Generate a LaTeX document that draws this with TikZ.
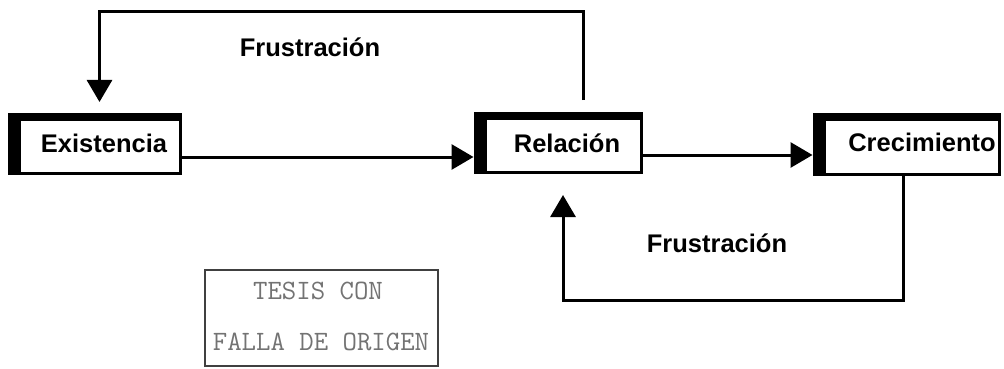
\documentclass[tikz,border=0pt]{standalone}
\usepackage{fontspec}
\setmainfont{Liberation Sans}
\usetikzlibrary{arrows.meta}
\pgfdeclarelayer{background}
\pgfsetlayers{background,main}
\begin{document}
\begin{tikzpicture}[x=1pt,y=-1pt,
  box/.style={draw, line width=3pt, fill=white, inner sep=0pt},
  lbl/.style={font=\fontsize{25.5}{28}\selectfont\bfseries, inner sep=0pt},
  conn/.style={line width=3pt, -{Triangle[length=22pt,width=25pt]}},
  stampline/.style={font=\ttfamily\fontsize{28}{30}\selectfont, text=black!55, inner sep=0pt}
]
\useasboundingbox (0,0) rectangle (1004,369);

% the three need boxes
\node[box, minimum width=161pt, minimum height=54pt] (ex)  at (99.5,146) {};
\node[box, minimum width=156pt, minimum height=54pt] (rel) at (563,145) {};
\node[box, minimum width=175pt, minimum height=55pt] (cr)  at (911.5,146.5) {};

% heavy frame on the upper-left side of each box
\begin{pgfonlayer}{background}
  \foreach \n in {ex,rel,cr}
    \fill[black] ([xshift=-10pt,yshift=5pt]\n.north west) rectangle (\n.south east);
\end{pgfonlayer}

\node[lbl] (exT)  at (104,143) {Existencia};
\node[lbl] (relT) at (567,143) {Relación};
\node[lbl] (crT)  at (922,142) {Crecimiento};

% forward progression
\coordinate (a1) at ([yshift=-11pt]ex.east);
\coordinate (relL) at ([xshift=-10pt]rel.west);
\draw[conn] (a1) -- (relL |- a1);

\coordinate (a2) at ([yshift=-10pt]rel.east);
\coordinate (crL) at ([xshift=-10pt]cr.west);
\draw[conn] (a2) -- (crL |- a2);

% frustration: back from Relación to Existencia
\coordinate (rail) at (0,12);
\coordinate (t1) at ([xshift=20pt,yshift=16.5pt]rel.north);
\coordinate (t2) at ([yshift=15.5pt]ex.north);
\draw[conn] (t1) -- (t1 |- rail) -| (t2);
\node[lbl] (f1) at (310,47) {Frustración};

% frustration: back from Crecimiento to Relación
\coordinate (rail2) at (0,300);
\coordinate (b1) at ([xshift=-8.5pt]cr.south);
\coordinate (b2) at ([yshift=-21.5pt]rel.south);
\draw[conn] (b1) -- (b1 |- rail2) -| (b2);
\node[lbl] (f2) at (717,243) {Frustración};

% rubber stamp
\node[draw=black!75, line width=1.2pt, minimum width=233pt, minimum height=96pt, inner sep=0pt] (stamp) at (321.5,318) {};
\node[stampline] (s1) at (318,291) {TESIS CON};
\node[stampline] (s2) at (321,342) {FALLA DE ORIGEN};
\end{tikzpicture}
\end{document}
